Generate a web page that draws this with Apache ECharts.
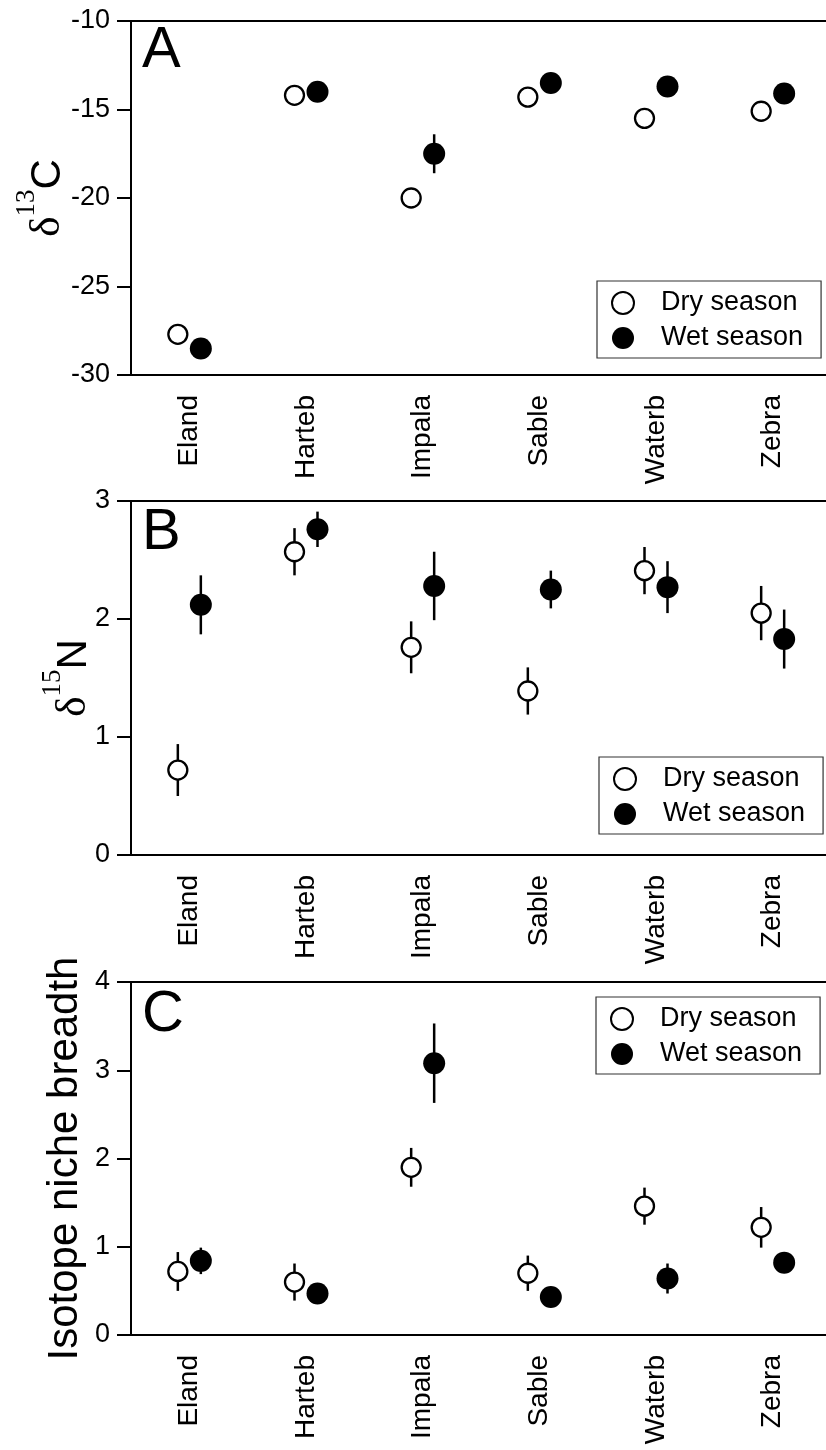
<!DOCTYPE html>
<html>
<head>
<meta charset="utf-8">
<script src="https://cdn.jsdelivr.net/npm/echarts@6/dist/echarts.min.js"></script>
<style>
  html, body { margin: 0; padding: 0; background: #fff; }
  #main { width: 826px; height: 1450px; }
</style>
</head>
<body>
<div id="main"></div>
<script>
var species = ["Eland", "Harteb", "Impala", "Sable", "Waterb", "Zebra"];

// panel A: d13C
var d13cDry = [-27.7, -14.2, -20.0, -14.3, -15.5, -15.1];
var d13cDryErr = [0.3, 0.2, 0.3, 0.2, 0.3, 0.3];
var d13cWet = [-28.5, -14.0, -17.5, -13.5, -13.7, -14.1];
var d13cWetErr = [0.3, 0.2, 1.1, 0.2, 0.3, 0.3];

// panel B: d15N
var d15nDry = [0.72, 2.57, 1.76, 1.39, 2.41, 2.05];
var d15nDryErr = [0.22, 0.2, 0.22, 0.2, 0.2, 0.23];
var d15nWet = [2.12, 2.76, 2.28, 2.25, 2.27, 1.83];
var d15nWetErr = [0.25, 0.15, 0.29, 0.16, 0.22, 0.25];

// panel C: isotope niche breadth
var nicheDry = [0.72, 0.60, 1.90, 0.70, 1.46, 1.22];
var nicheDryErr = [0.22, 0.21, 0.22, 0.2, 0.21, 0.23];
var nicheWet = [0.84, 0.47, 3.08, 0.43, 0.64, 0.82];
var nicheWetErr = [0.15, 0.1, 0.45, 0.08, 0.17, 0.1];

var FONT = "Liberation Sans";
var OFF = 11.5;

function errData(vals, errs) {
    var out = [];
    for (var i = 0; i < vals.length; i++) out.push([i, vals[i], errs[i]]);
    return out;
}

function errBars(name, idx, vals, errs, off) {
    return {
        name: name, type: "custom", xAxisIndex: idx, yAxisIndex: idx, z: 2,
        encode: { x: 0, y: 1 },
        data: errData(vals, errs),
        renderItem: function (params, api) {
            var c = api.value(0), v = api.value(1), e = api.value(2);
            var p1 = api.coord([c, v + e]), p2 = api.coord([c, v - e]);
            return {
                type: "line",
                shape: { x1: p1[0] + off, y1: p1[1], x2: p2[0] + off, y2: p2[1] },
                style: { stroke: "#000", lineWidth: 2.5 }
            };
        }
    };
}

function points(name, idx, vals, off) {
    var dry = name == "Dry season";
    return {
        name: name, type: "scatter", xAxisIndex: idx, yAxisIndex: idx, z: 3,
        data: vals,
        symbol: "circle",
        symbolSize: dry ? 19 : 22,
        symbolOffset: [off, 0],
        itemStyle: dry ? { color: "#fff", borderColor: "#000", borderWidth: 2.3, opacity: 1 }
                       : { color: "#000", opacity: 1 }
    };
}

function xAxis(idx) {
    return {
        type: "category", gridIndex: idx, data: species,
        axisLine: { lineStyle: { color: "#000", width: 2 } },
        axisTick: { alignWithLabel: true, length: 13, lineStyle: { color: "#000", width: 2 } },
        axisLabel: { rotate: 90, margin: 20, fontSize: 28, fontFamily: FONT, color: "#000" },
        splitLine: { show: false }
    };
}

function yAxis(idx, min, max, step, name, gap, rich) {
    return {
        type: "value", gridIndex: idx, min: min, max: max, interval: step,
        name: name, nameLocation: "middle", nameRotate: 90, nameGap: gap,
        nameMoveOverlap: false,
        nameTextStyle: rich ? { rich: rich, lineHeight: 56 } : { fontSize: 42, fontFamily: FONT, color: "#000" },
        axisLine: { show: true, lineStyle: { color: "#000", width: 2 } },
        axisTick: { show: true, length: 14, lineStyle: { color: "#000", width: 2 } },
        axisLabel: { margin: 21, fontSize: 27, fontFamily: FONT, color: "#000" },
        splitLine: { show: false }
    };
}

function isoRich() {
    return {
        d: { fontFamily: "Liberation Serif", fontSize: 43, color: "#000", verticalAlign: "bottom", lineHeight: 56 },
        s: { fontFamily: "Liberation Serif", fontSize: 27, color: "#000", verticalAlign: "top", lineHeight: 56 },
        c: { fontFamily: FONT, fontSize: 42, color: "#000", verticalAlign: "bottom", lineHeight: 56 }
    };
}

function legend(left, top) {
    return {
        left: left, top: top, orient: "vertical",
        data: ["Dry season", "Wet season"],
        itemWidth: 22, itemHeight: 22, itemGap: 5,
        padding: [7, 18, 5, 14],
        borderColor: "#333", borderWidth: 1.2, borderRadius: 0,
        selectedMode: false,
        textStyle: { fontSize: 27, fontFamily: FONT, color: "#000", lineHeight: 30, padding: [0, 0, 0, 22] }
    };
}

function panelLetter(text, y) {
    return { type: "text", left: 142, top: y, style: { text: text, font: "58px " + FONT, fill: "#000" } };
}

function grid(top, height) {
    // plot runs slightly past the right edge of the picture
    return {
        left: 131, width: 700, top: top, height: height, outerBoundsMode: "none",
        show: true, borderColor: "#000", borderWidth: 2
    };
}

var chart = echarts.init(document.getElementById("main"));
chart.setOption({
    animation: false,
    backgroundColor: "#fff",
    grid: [grid(21, 354), grid(501, 354), grid(982, 353)],
    xAxis: [xAxis(0), xAxis(1), xAxis(2)],
    yAxis: [
        yAxis(0, -30, -10, 5, "{d|δ}{s|13}{c|C}", 62, isoRich()),
        yAxis(1, 0, 3, 1, "{d|δ}{s|15}{c|N}", 36, isoRich()),
        yAxis(2, 0, 4, 1, "Isotope niche breadth", 45, null)
    ],
    legend: [legend(597, 281), legend(599, 757), legend(596, 997)],
    graphic: [panelLetter("A", 22), panelLetter("B", 504), panelLetter("C", 986)],
    series: [
        errBars("dryErrA", 0, d13cDry, d13cDryErr, -OFF),
        errBars("wetErrA", 0, d13cWet, d13cWetErr, OFF),
        points("Dry season", 0, d13cDry, -OFF),
        points("Wet season", 0, d13cWet, OFF),
        errBars("dryErrB", 1, d15nDry, d15nDryErr, -OFF),
        errBars("wetErrB", 1, d15nWet, d15nWetErr, OFF),
        points("Dry season", 1, d15nDry, -OFF),
        points("Wet season", 1, d15nWet, OFF),
        errBars("dryErrC", 2, nicheDry, nicheDryErr, -OFF),
        errBars("wetErrC", 2, nicheWet, nicheWetErr, OFF),
        points("Dry season", 2, nicheDry, -OFF),
        points("Wet season", 2, nicheWet, OFF)
    ]
});
</script>
</body>
</html>
